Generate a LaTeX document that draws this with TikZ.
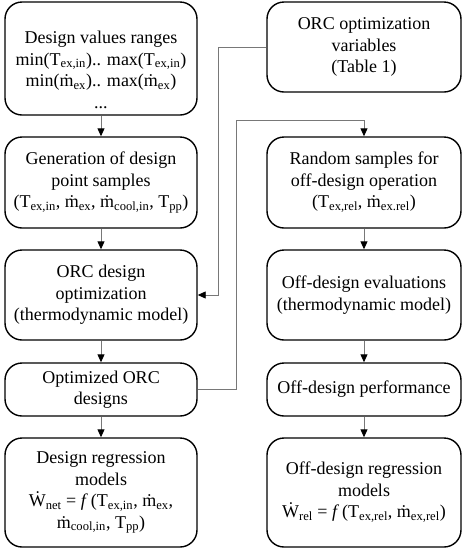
\documentclass[tikz,border=0pt]{standalone}
\usepackage{fontspec}
\setmainfont{Liberation Serif}
\usetikzlibrary{arrows.meta}
\definecolor{conngray}{RGB}{120,120,120}
\newcommand{\sub}[1]{\textsubscript{#1}}
\begin{document}
\begin{tikzpicture}[x=1pt,y=-1pt,
  txt/.style={align=center, font=\fontsize{18}{21.5}\selectfont, inner sep=2pt},
  box/.style={txt, draw=black, line width=1.4pt, rounded corners=17pt},
  lbox/.style={box, minimum width=192pt},
  rbox/.style={box, minimum width=194pt},
  conn/.style={draw=conngray, line width=0.9pt, -{Triangle[color=black,length=8pt,width=7pt]}}
]
\useasboundingbox (0,0) rectangle (468,550);
% left column
\node[lbox, minimum height=113pt] (L1) at (101,58.5) {};
\node[txt] (L1t) at (101,70) {Design values ranges\\min(T\sub{ex,in}).. max(T\sub{ex,in})\\min(ṁ\sub{ex}).. max(ṁ\sub{ex})\\...};
\node[lbox, minimum height=91pt] (L2) at (101,182.5) {Generation of design\\point samples\\(T\sub{ex,in}, ṁ\sub{ex}, ṁ\sub{cool,in}, T\sub{pp})};
\node[lbox, minimum height=90pt] (L3) at (101,295) {ORC design\\optimization\\(thermodynamic model)};
\node[lbox, minimum height=53pt] (L4) at (101,389.5) {Optimized ORC\\designs};
\node[lbox, minimum height=109pt] (L5) at (101,492.5) {Design regression\\models\\Ẇ\sub{net} = \textit{f}\,(T\sub{ex,in}, ṁ\sub{ex},\\ṁ\sub{cool,in}, T\sub{pp})};
% right column
\node[rbox, minimum height=90pt] (R1) at (364,47) {ORC optimization\\variables\\(Table 1)};
\node[rbox, minimum height=91pt] (R2) at (364,182.5) {Random samples for\\off-design operation\\(T\sub{ex,rel}, ṁ\sub{ex.rel})};
\node[rbox, minimum height=90pt] (R3) at (364,295) {Off-design evaluations\\(thermodynamic model)};
\node[rbox, minimum height=53pt] (R4) at (364,389.5) {Off-design performance};
\node[rbox, minimum height=109pt] (R5) at (364,492.5) {Off-design regression\\models\\Ẇ\sub{rel} = \textit{f}\,(T\sub{ex,rel}, ṁ\sub{ex,rel})};
% vertical connectors
\draw[conn] (L1) -- (L2);
\draw[conn] (L2) -- (L3);
\draw[conn] (L3) -- (L4);
\draw[conn] (L4) -- (L5);
\draw[conn] (R2) -- (R3);
\draw[conn] (R3) -- (R4);
\draw[conn] (R4) -- (R5);
% cross connectors
\coordinate (j1) at (218,295);
\coordinate (j2) at (236,120);
\draw[conn] (R1.west) -| (j1) -- (L3.east);
\draw[conn] (L4.east) -| (j2) -| (R2.north);
\end{tikzpicture}
\end{document}
